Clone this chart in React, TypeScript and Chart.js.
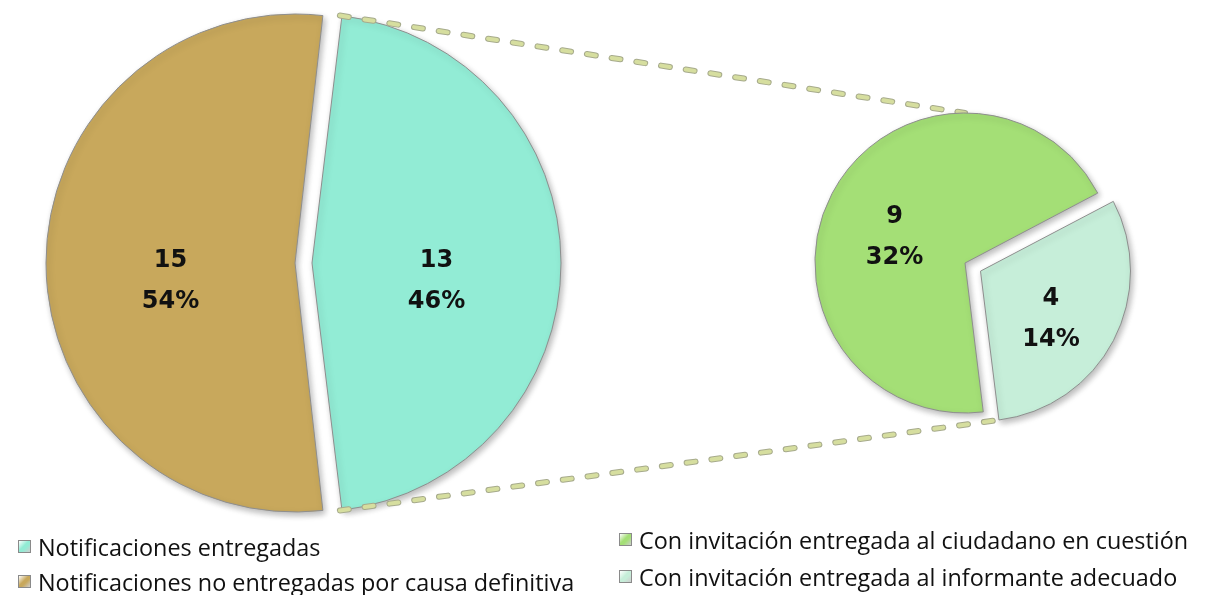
import React, { useEffect, useRef } from "react";
import { Chart, registerables } from "chart.js";

Chart.register(...registerables);

// ---- data ----
const mainLabels = ["Notificaciones entregadas", "Notificaciones no entregadas por causa definitiva"];
const mainValues = [13, 15];
const mainColors = ["#92ECD5", "#C8A85C"];

const subLabels = ["Con invitación entregada al ciudadano en cuestión", "Con invitación entregada al informante adecuado"];
const subValues = [9, 4];
const subColors = ["#A4DF76", "#C6EED9"];

const grandTotal = mainValues.reduce((a, b) => a + b, 0);

const W = 1211;
const H = 595;

// geometry of a drawn arc (Chart.js translates exploded arcs by offset/4)
function arcGeom(arc: any) {
  const off = (arc.options.offset || 0) / 4;
  const circ = arc.endAngle - arc.startAngle;
  const fix = 1 - Math.sin(Math.min(Math.PI, circ));
  const mid = (arc.startAngle + arc.endAngle) / 2;
  return {
    cx: arc.x + Math.cos(mid) * off,
    cy: arc.y + Math.sin(mid) * off,
    r: arc.outerRadius + off * fix,
    mid,
  };
}

// keep exploded slices the same radius as the others
const keepRadius = {
  id: "keepRadius",
  afterDatasetUpdate(chart: any, args: any) {
    const meta = chart.getDatasetMeta(args.index);
    meta.data.forEach((arc: any) => {
      const off = ((arc.options && arc.options.offset) || 0) / 4;
      const circ = arc.endAngle - arc.startAngle;
      const fix = 1 - Math.sin(Math.min(Math.PI, circ));
      arc.outerRadius = arc.outerRadius - off * fix;
    });
  },
};

const softShadow = {
  id: "softShadow",
  beforeDatasetDraw(chart: any) {
    const ctx = chart.ctx;
    ctx.save();
    ctx.shadowColor = "rgba(0,0,0,0.28)";
    ctx.shadowBlur = 6;
    ctx.shadowOffsetX = 2;
    ctx.shadowOffsetY = 3;
  },
  afterDatasetDraw(chart: any) {
    chart.ctx.restore();
  },
};

const sliceLabels = {
  id: "sliceLabels",
  afterDatasetsDraw(chart: any, _args: any, opts: any) {
    const meta = chart.getDatasetMeta(0);
    const values = chart.data.datasets[0].data;
    const ctx = chart.ctx;
    ctx.save();
    ctx.font = opts.font;
    ctx.fillStyle = "#111";
    ctx.textAlign = "center";
    ctx.textBaseline = "middle";
    meta.data.forEach((arc: any, i: number) => {
      const g = arcGeom(arc);
      const x = g.cx + Math.cos(g.mid) * g.r * opts.radial;
      const y = g.cy + Math.sin(g.mid) * g.r * opts.radial + g.r * opts.lift;
      const pct = Math.round((values[i] / opts.total) * 100) + "%";
      ctx.fillText(String(values[i]), x, y - opts.lineHeight / 2);
      ctx.fillText(pct, x, y + opts.lineHeight / 2);
    });
    ctx.restore();
  },
};

function LegendBox({ color }: { color: string }) {
  return (
    <span
      style={{
        display: "inline-block",
        width: 13,
        height: 13,
        marginRight: 7,
        border: "1px solid #8a8a8a",
        background: `linear-gradient(135deg, #ffffff55 0%, ${color} 45%, ${color} 60%, #00000030 100%)`,
        boxSizing: "border-box",
        flex: "0 0 auto",
      }}
    />
  );
}

export default function App() {
  const mainRef = useRef<HTMLCanvasElement>(null);
  const subRef = useRef<HTMLCanvasElement>(null);

  useEffect(() => {
    const main = new Chart(mainRef.current as HTMLCanvasElement, {
      type: "pie",
      data: {
        labels: mainLabels,
        datasets: [
          {
            data: mainValues,
            backgroundColor: mainColors,
            borderColor: "#8e8e8e",
            borderWidth: 1,
            offset: [68, 0],
          },
        ],
      },
      options: {
        responsive: false,
        animation: false,
        events: [],
        rotation: 90 - (mainValues[0] / grandTotal) * 180,
        radius: 249,
        layout: { padding: { left: 0, right: 621, top: 0, bottom: 69 } },
        plugins: {
          legend: { display: false },
          tooltip: { enabled: false },
          sliceLabels: { font: 'bold 24px "DejaVu Sans"', radial: 0.5, lift: 0.075, lineHeight: 41, total: grandTotal },
        } as any,
      },
      plugins: [keepRadius, softShadow, sliceLabels],
    });

    const connectors = {
      id: "connectors",
      beforeDatasetsDraw(chart: any) {
        const big = main.getDatasetMeta(0).data[0] as any;
        const bg = arcGeom(big);
        const arcs = chart.getDatasetMeta(0).data as any[];
        const first = arcGeom(arcs[0]);
        const last = arcGeom(arcs[arcs.length - 1]);
        const lastArc = arcs[arcs.length - 1];
        const p1 = { x: bg.cx + Math.cos(big.startAngle) * bg.r, y: bg.cy + Math.sin(big.startAngle) * bg.r };
        const p2 = { x: bg.cx + Math.cos(big.endAngle) * bg.r, y: bg.cy + Math.sin(big.endAngle) * bg.r };
        const q1 = { x: first.cx, y: first.cy - first.r };
        const q2 = { x: last.cx + Math.cos(lastArc.endAngle) * last.r, y: last.cy + Math.sin(lastArc.endAngle) * last.r };
        const ctx = chart.ctx;
        ctx.save();
        ctx.lineCap = "round";
        ctx.setLineDash([9, 16]);
        const pass = (color: string, w: number) => {
          ctx.strokeStyle = color;
          ctx.lineWidth = w;
          ctx.beginPath();
          ctx.moveTo(p1.x, p1.y);
          ctx.lineTo(q1.x, q1.y);
          ctx.moveTo(p2.x, p2.y);
          ctx.lineTo(q2.x, q2.y);
          ctx.stroke();
        };
        pass("#a7ab8c", 6);
        pass("#d6de9f", 4);
        ctx.restore();
      },
    };

    const sub = new Chart(subRef.current as HTMLCanvasElement, {
      type: "pie",
      data: {
        labels: subLabels,
        datasets: [
          {
            data: subValues,
            backgroundColor: subColors,
            borderColor: "#8e8e8e",
            borderWidth: 1,
            offset: [0, 70],
          },
        ],
      },
      options: {
        responsive: false,
        animation: false,
        events: [],
        rotation: 173,
        radius: 150,
        layout: { padding: { left: 719, right: 0, top: 0, bottom: 69 } },
        plugins: {
          legend: { display: false },
          tooltip: { enabled: false },
          sliceLabels: { font: 'bold 24px "DejaVu Sans"', radial: 0.53, lift: 0.075, lineHeight: 41, total: grandTotal },
        } as any,
      },
      plugins: [keepRadius, connectors, softShadow, sliceLabels],
    });

    return () => {
      sub.destroy();
      main.destroy();
    };
  }, []);

  const legendFont = '23.4px "Open Sans", "Noto Sans", sans-serif';

  return (
    <div style={{ position: "absolute", left: 0, top: 0, width: W, height: H, background: "#fff", overflow: "hidden" }}>
      <canvas ref={mainRef} width={W} height={H} style={{ position: "absolute", left: 0, top: 0 }} />
      <canvas ref={subRef} width={W} height={H} style={{ position: "absolute", left: 0, top: 0 }} />
      <div style={{ position: "absolute", left: 18, top: 529, font: legendFont, color: "#111" }}>
        {mainLabels.map((l, i) => (
          <div key={l} style={{ display: "flex", alignItems: "center", height: 35, whiteSpace: "nowrap" }}>
            <LegendBox color={mainColors[i]} />
            <span>{l}</span>
          </div>
        ))}
      </div>
      <div style={{ position: "absolute", left: 619, top: 521, font: legendFont, color: "#111" }}>
        {subLabels.map((l, i) => (
          <div key={l} style={{ display: "flex", alignItems: "center", height: 37, whiteSpace: "nowrap" }}>
            <LegendBox color={subColors[i]} />
            <span>{l}</span>
          </div>
        ))}
      </div>
    </div>
  );
}
